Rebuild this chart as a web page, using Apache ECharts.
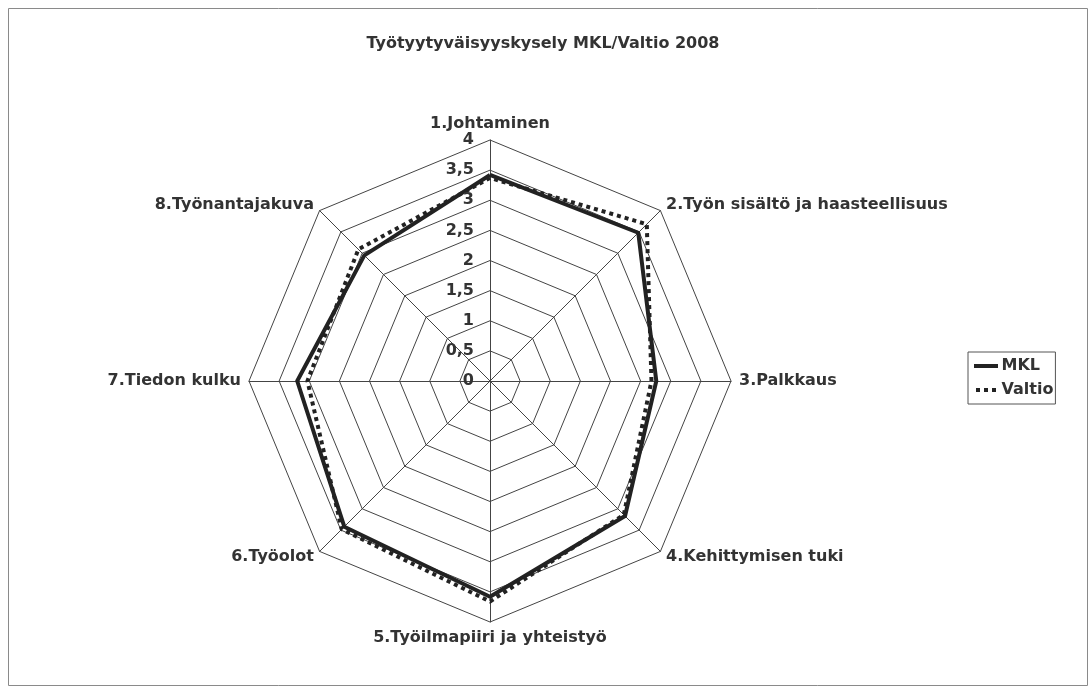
<!DOCTYPE html>
<html>
<head>
<meta charset="utf-8">
<script src="https://cdn.jsdelivr.net/npm/echarts@6/dist/echarts.min.js"></script>
<style>
html,body{margin:0;padding:0;background:#fff;}
#chart{width:1092px;height:688px;}
</style>
</head>
<body>
<div id="chart"></div>
<script>
const titleText = 'Työtyytyväisyyskysely MKL/Valtio 2008';
const categories = ['1.Johtaminen', '2.Työn sisältö ja haasteellisuus', '3.Palkkaus', '4.Kehittymisen tuki',
  '5.Työilmapiiri ja yhteistyö', '6.Työolot', '7.Tiedon kulku', '8.Työnantajakuva'];
const mklValues = [3.42, 3.48, 2.76, 3.17, 3.58, 3.42, 3.2, 2.95];
const valtioValues = [3.37, 3.68, 2.68, 3.14, 3.66, 3.48, 3.03, 3.09];
const seriesNames = ['MKL', 'Valtio'];
const axisMax = 4;
const axisStep = 0.5;

// ECharts radar runs counter-clockwise; reorder so categories appear clockwise from the top
const order = [0].concat(categories.map((_, i) => i).slice(1).reverse());
const cw = arr => order.map(i => arr[i]);

const FONT = 'DejaVu Sans, Verdana, sans-serif';
const FS = 16;
const chart = echarts.init(document.getElementById('chart'));
const center = [490, 381];
const radius = 241;

chart.setOption({
  backgroundColor: '#fff',
  animation: false,
  graphic: [{
    type: 'rect', left: 6, top: 6, z: -10,
    shape: { width: 1079, height: 677 },
    style: { fill: 'none', stroke: '#8a8a8a', lineWidth: 1 }
  }],
  title: {
    text: titleText, left: 538, top: 31, textAlign: 'center',
    textStyle: { fontFamily: FONT, fontSize: FS, fontWeight: 'bold', color: '#333' }
  },
  legend: {
    orient: 'vertical', left: 968, top: 352,
    borderColor: '#555', borderWidth: 1, padding: [6, 2, 6, 6], itemGap: 8,
    itemWidth: 25, itemHeight: 4,
    textStyle: { fontFamily: FONT, fontSize: FS, fontWeight: 'bold', color: '#333', padding: [0, 0, 0, -2] },
    data: [
      { name: seriesNames[0], icon: 'path://M0,0H24V4H0Z' },
      { name: seriesNames[1], icon: 'path://M0,0H4V4H0Z M8,0H12V4H8Z M16,0H20V4H16Z' }
    ]
  },
  polar: { center: center, radius: radius },
  angleAxis: { show: false, startAngle: 90, min: 0, max: 360 },
  radiusAxis: {
    min: 0, max: axisMax, interval: axisStep,
    axisLine: { show: false }, axisTick: { show: false }, splitLine: { show: false },
    axisLabel: {
      show: true, fontFamily: FONT, fontSize: FS, fontWeight: 'bold', color: '#333', margin: 16,
      formatter: v => String(v).replace('.', ',')
    },
    z: 5
  },
  radar: {
    center: center, radius: radius, startAngle: 90, shape: 'polygon', splitNumber: 8,
    indicator: cw(categories).map(c => ({ name: c, max: axisMax, min: 0 })),
    axisName: { fontFamily: FONT, fontSize: FS, fontWeight: 'bold', color: '#333' },
    nameGap: 8,
    axisLine: { lineStyle: { color: '#444', width: 1 } },
    splitLine: { lineStyle: { color: '#444', width: 1 } },
    splitArea: { show: false }
  },
  series: [{
    type: 'radar',
    symbol: 'none',
    data: [
      { name: seriesNames[0], value: cw(mklValues), lineStyle: { color: '#222', width: 4, type: 'solid' }, itemStyle: { color: '#222' } },
      { name: seriesNames[1], value: cw(valtioValues), lineStyle: { color: '#222', width: 4, type: [4, 4] }, itemStyle: { color: '#222' } }
    ]
  }]
});
</script>
</body>
</html>
